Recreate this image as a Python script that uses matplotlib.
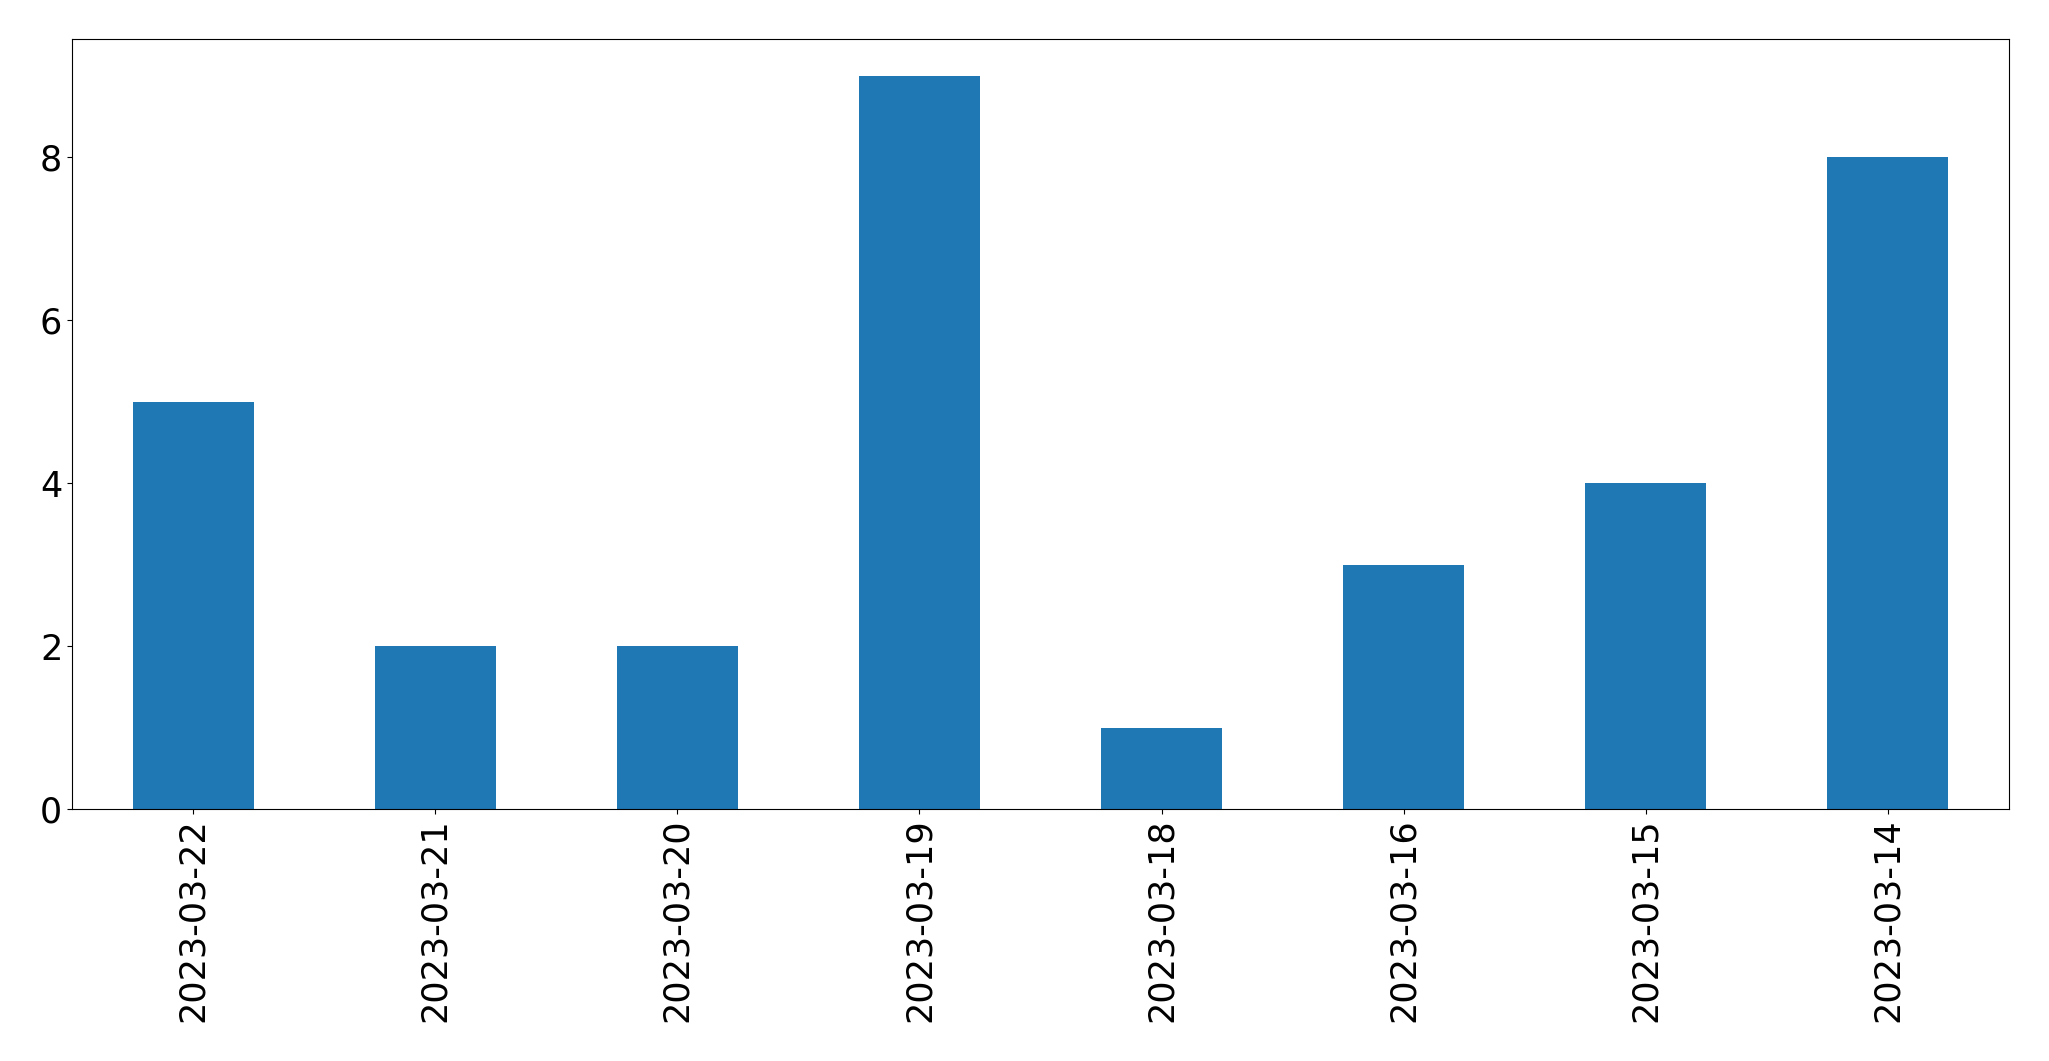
import numpy as np
import pandas as pd
import matplotlib
matplotlib.use('Agg')
import matplotlib.pyplot as plt

# Counts per date, in the order shown
dates = ['2023-03-22', '2023-03-21', '2023-03-20', '2023-03-19',
         '2023-03-18', '2023-03-16', '2023-03-15', '2023-03-14']
counts = [5, 2, 2, 9, 1, 3, 4, 8]

s = pd.Series(counts, index=dates)

fig = plt.figure(figsize=(20.49, 10.61), dpi=100)
ax = fig.add_axes([72/2049, 1 - 809/1061, 1937/2049, 770/1061])
s.plot(kind='bar', ax=ax, color='#1f77b4')
ax.tick_params(axis='both', labelsize=25.2)

fig.savefig('out.png', dpi=100)
